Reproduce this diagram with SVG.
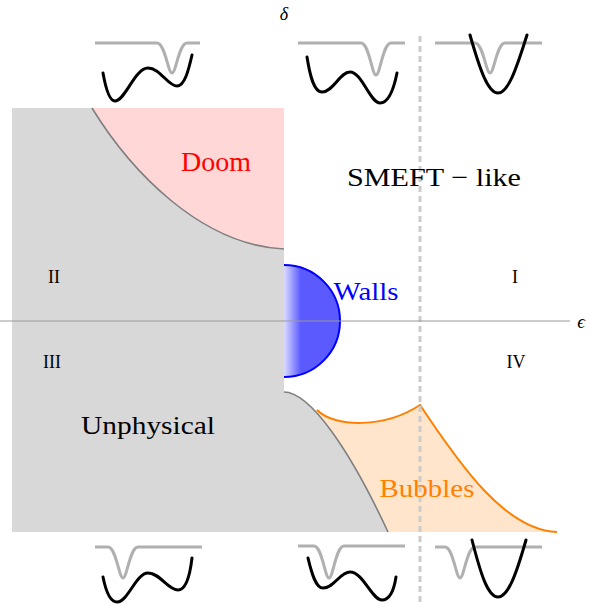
<svg xmlns="http://www.w3.org/2000/svg" width="590" height="606" viewBox="0 0 590 606">
<style>
.lbl{font-family:"Liberation Serif","DejaVu Serif",serif;}
.bnd{fill:none;stroke:#808080;stroke-width:1.6;}
.pot{fill:none;stroke:#000;stroke-width:3;stroke-linecap:round;}
.tun{fill:none;stroke:#b0b0b0;stroke-width:3;}
</style>
<defs>
<linearGradient id="wg" gradientUnits="userSpaceOnUse" x1="284" y1="0" x2="340" y2="0">
<stop offset="0" stop-color="#dcdcff"/>
<stop offset="0.3" stop-color="#5a5aff"/>
<stop offset="1" stop-color="#5a5aff"/>
</linearGradient>
</defs>
<rect width="590" height="606" fill="#fff"/>
<g id="doom">
<rect x="92" y="108" width="192" height="141" fill="#ffd7d7"/>
<text class="lbl" x="216" y="171" font-size="27" fill="#ff0000" text-anchor="middle" textLength="70" lengthAdjust="spacingAndGlyphs">Doom</text>
</g>
<g id="bubbles">
<path d="M317,410 C335,428 385,428 420,405 C460,465 505,530 557,532 L300,532 L300,410 Z" fill="#ffe5cc"/>
</g>
<g id="unphysical">
<path d="M12,108 H92 C130,170 200,245 284,249 V392 C310,392 350,450 388,532 H12 Z" fill="#d8d8d8"/>
<path class="bnd" d="M92,108 C130,170 200,245 284,249"/>
<path class="bnd" d="M284,392 C310,392 350,450 388,532"/>
<text class="lbl" x="148" y="434" font-size="26" fill="#000" text-anchor="middle" textLength="134" lengthAdjust="spacingAndGlyphs">Unphysical</text>
</g>
<g id="connectors">
<path d="M317,410 C335,428 385,428 420,405 C460,465 505,530 557,532" fill="none" stroke="#ff8000" stroke-width="2"/>
<line x1="420" y1="36" x2="420" y2="606" stroke="#cccccc" stroke-width="3" stroke-dasharray="6,4"/>
</g>
<g id="walls">
<path d="M284,265 A56,56 0 0 1 284,377 Z" fill="url(#wg)"/>
<path d="M284,265 A56,56 0 0 1 284,377" fill="none" stroke="#0000ff" stroke-width="2"/>
<text class="lbl" x="366" y="300" font-size="26" fill="#0000ff" text-anchor="middle" textLength="65" lengthAdjust="spacingAndGlyphs">Walls</text>
</g>
<g id="axes">
<line x1="0" y1="321" x2="570" y2="321" stroke="#999" stroke-width="1"/>
<text class="lbl" x="284" y="20" font-size="18" font-style="italic" text-anchor="middle">δ</text>
<text class="lbl" x="581" y="328" font-size="19" font-style="italic" text-anchor="middle">ϵ</text>
</g>
<g id="bubbles-label">
<text class="lbl" x="427" y="497" font-size="26" fill="#ff8000" text-anchor="middle" textLength="95" lengthAdjust="spacingAndGlyphs">Bubbles</text>
</g>
<g id="smeft">
<text class="lbl" x="434" y="186" font-size="26" text-anchor="middle" textLength="174" lengthAdjust="spacingAndGlyphs">SMEFT − like</text>
</g>
<g id="regions" class="lbl" font-size="18" text-anchor="middle">
<text x="54" y="283">II</text>
<text x="515" y="283">I</text>
<text x="52" y="368">III</text>
<text x="516" y="368">IV</text>
</g>
<g id="sketch-tl">
<path class="tun" d="M95,43 H157 C165,43 168,73 172,73 C176,73 179,43 187,43 H200"/>
<path class="pot" d="M103,73 C106,90 110,101 115,101 C125,101 135,68 148,68 C160,68 168,86 177,86 C185,86 189,68 192,55"/>
</g>
<g id="sketch-tm">
<path class="tun" d="M298,43 H361 C369,43 372,75 376,75 C380,75 383,43 391,43 H405"/>
<path class="pot" d="M307,57 C310,76 314,92 322,92 C333,92 340,72 350,72 C362,72 370,103 380,103 C389,103 394,88 397,73"/>
</g>
<g id="sketch-tr">
<path class="tun" d="M435,43 H475 C483,43 486,73 490,73 C494,73 497,43 505,43 H542"/>
<path class="pot" d="M470,35 C480,70 488,93 498,93 C508,93 516,70 527,35"/>
</g>
<g id="sketch-bl">
<path class="tun" d="M95,547 H108 C116,547 119,578 123,578 C127,578 130,547 138,547 H202"/>
<path class="pot" d="M103,577 C106,592 110,602 117,602 C128,602 136,573 148,573 C160,573 168,590 178,590 C186,590 190,575 192,558"/>
</g>
<g id="sketch-bm">
<path class="tun" d="M298,546 H314 C322,546 325,578 329,578 C333,578 336,546 344,546 H405"/>
<path class="pot" d="M308,558 C312,575 316,588 323,588 C334,588 340,572 350,572 C363,572 372,600 382,600 C390,600 394,590 396,577"/>
</g>
<g id="sketch-br">
<path class="tun" d="M435,547 H445 C453,547 456,578 460,578 C464,578 467,547 475,547 H542"/>
<path class="pot" d="M472,540 C481,575 488,597 498,597 C508,597 516,575 526,540"/>
</g>
</svg>
